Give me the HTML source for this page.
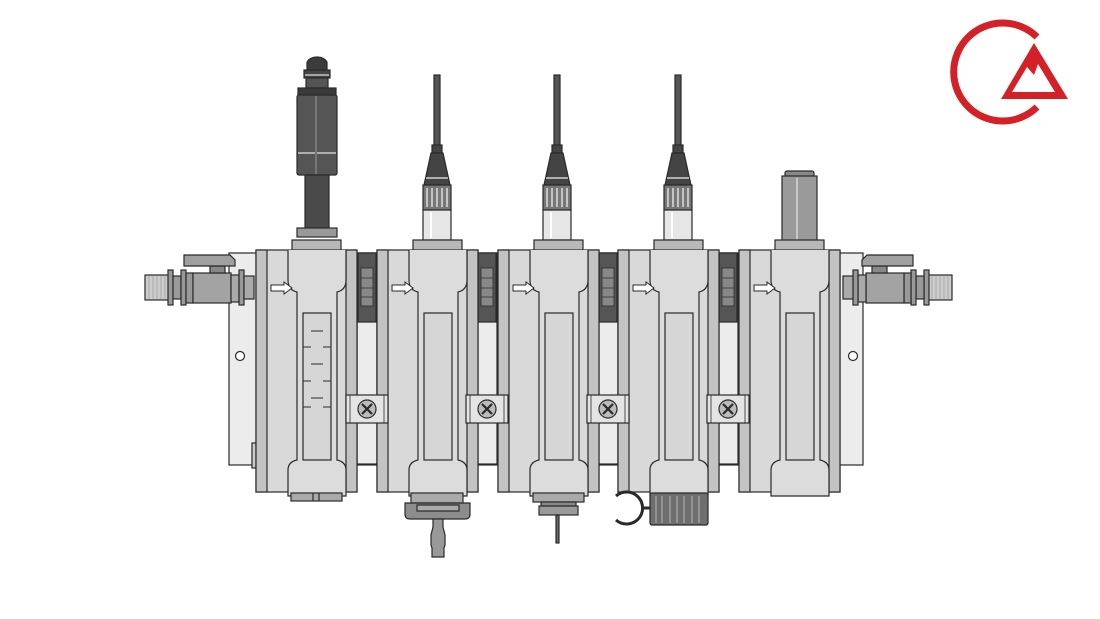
<!DOCTYPE html>
<html><head><meta charset="utf-8"><style>
html,body{margin:0;padding:0;background:#fff;width:1100px;height:619px;overflow:hidden}
svg{display:block}
</style></head><body>
<svg width="1100" height="619" viewBox="0 0 1100 619" xmlns="http://www.w3.org/2000/svg" stroke="#2a2a2a" stroke-width="1.2">
<defs>
  <g id="mod">
    <rect x="0" y="250" width="101" height="242" fill="#d9d9d9"/>
    <rect x="0" y="250" width="11" height="242" fill="#c3c3c3"/>
    <rect x="90" y="250" width="11" height="242" fill="#c3c3c3"/>
    <rect x="36" y="240" width="49" height="10" fill="#b8b8b8"/>
    <path d="M32 250 V280 Q32 290 41 292 V460 Q32 462 32 470 V496 H90 V470 Q90 462 81 460 V292 Q90 290 90 280 V250" fill="#dcdcdc"/>
    <rect x="47" y="313" width="28" height="147" fill="#d6d6d6"/>
    <path d="M15 285 H28 V282 L36 288 L28 294 V291 H15 Z" fill="#fff" stroke-width="1"/>
  </g>
  <g id="conn">
    <rect x="0" y="253" width="20" height="211" fill="#ececec"/>
    <rect x="1" y="253" width="18" height="69" fill="#555"/>
    <rect x="4" y="268" width="12" height="38" fill="#888" stroke-width="0.8"/>
    <line x1="4" y1="278" x2="16" y2="278" stroke="#333" stroke-width="0.8"/>
    <line x1="4" y1="288" x2="16" y2="288" stroke="#333" stroke-width="0.8"/>
    <line x1="4" y1="297" x2="16" y2="297" stroke="#333" stroke-width="0.8"/>
  </g>
  <g id="brk">
    <rect x="-11" y="395" width="42" height="28" fill="#e4e4e4"/>
    <line x1="-7" y1="395" x2="-7" y2="423" stroke-width="0.8"/>
    <line x1="27" y1="395" x2="27" y2="423" stroke-width="0.8"/>
    <circle cx="10" cy="409" r="9" fill="#bbb"/>
    <path d="M5 404 L15 414 M15 404 L5 414" stroke-width="2.2"/>
  </g>
  <g id="cab">
    <rect x="-3" y="75" width="6" height="72" fill="#555"/>
    <rect x="-5" y="145" width="10" height="8" fill="#444"/>
    <path d="M-6 153 H6 L13 185 H-13 Z" fill="#444"/>
    <line x1="-11" y1="178" x2="11" y2="178" stroke="#eee" stroke-width="1.2"/>
    <rect x="-14" y="185" width="28" height="25" fill="#777"/>
    <path d="M-10 188 V207 M-5 188 V207 M0 188 V207 M5 188 V207 M10 188 V207" stroke="#ddd" stroke-width="1.5"/>
    <rect x="-14" y="210" width="28" height="30" fill="#e6e6e6"/>
    <line x1="-6" y1="212" x2="-6" y2="238" stroke="#fff" stroke-width="2"/>
  </g>
  <g id="valve">
    <rect x="0" y="275" width="25" height="25" fill="#ccc"/>
    <path d="M4 276 V299 M8 276 V299 M12 276 V299 M16 276 V299 M20 276 V299" stroke="#aaa" stroke-width="1"/>
    <rect x="23" y="270" width="5" height="35" fill="#999"/>
    <rect x="28" y="276" width="8" height="23" fill="#999"/>
    <rect x="36" y="270" width="5" height="35" fill="#999"/>
    <rect x="41" y="273" width="7" height="30" fill="#999"/>
    <rect x="48" y="273" width="38" height="30" fill="#a3a3a3"/>
    <rect x="65" y="266" width="15" height="7" fill="#888"/>
    <path d="M39 255 H85 L90 260 V266 H39 Z" fill="#a0a0a0"/>
    <rect x="86" y="275" width="8" height="27" fill="#aaa"/>
    <rect x="94" y="270" width="5" height="35" fill="#999"/>
    <rect x="99" y="276" width="10" height="23" fill="#aaa"/>
  </g>
</defs>

<rect x="229" y="253" width="634" height="212" fill="#ececec"/>
<circle cx="240" cy="356" r="4.5" fill="#fff"/>
<circle cx="853" cy="356" r="4.5" fill="#fff"/>
<rect x="252" y="443" width="5" height="25" fill="#ccc"/>

<use href="#valve" transform="translate(145,0)"/>
<use href="#valve" transform="translate(952,0) scale(-1,1)"/>

<use href="#conn" x="357"/>
<use href="#conn" x="477"/>
<use href="#conn" x="598"/>
<use href="#conn" x="718"/>

<path d="M307 70 V62 Q310 57 317 57 Q324 57 327 62 V70 Z" fill="#3c3c3c"/>
<rect x="304" y="70" width="26" height="8" fill="#444"/>
<line x1="305" y1="75" x2="329" y2="75" stroke="#ddd"/>
<rect x="306" y="78" width="22" height="10" fill="#555"/>
<rect x="298" y="88" width="38" height="7" fill="#3a3a3a"/>
<rect x="297" y="95" width="40" height="80" rx="2" fill="#555"/>
<line x1="298" y1="153" x2="336" y2="153" stroke="#ccc" stroke-width="1.5"/>
<line x1="316" y1="96" x2="316" y2="174" stroke="#777" stroke-width="2"/>
<rect x="305" y="175" width="24" height="53" fill="#4a4a4a"/>
<rect x="297" y="228" width="40" height="9" fill="#999"/>
<use href="#cab" transform="translate(437,0)"/>
<use href="#cab" transform="translate(557,0)"/>
<use href="#cab" transform="translate(678,0)"/>
<rect x="785" y="171" width="29" height="6" rx="2" fill="#888"/>
<rect x="782" y="176" width="35" height="66" fill="#9a9a9a"/>
<line x1="797" y1="178" x2="797" y2="240" stroke="#c8c8c8" stroke-width="2"/>

<use href="#mod" x="256"/>
<use href="#mod" x="377"/>
<use href="#mod" x="498"/>
<use href="#mod" x="618"/>
<use href="#mod" x="739"/>

<use href="#brk" x="357"/>
<use href="#brk" x="477"/>
<use href="#brk" x="598"/>
<use href="#brk" x="718"/>

<g stroke-width="1">
<path d="M303 313 H311 M323 313 H331 M303 347 H311 M323 347 H331 M303 381 H311 M323 381 H331 M303 407 H311 M323 407 H331"/>
<path d="M311 331 H323 M311 364 H323 M311 398 H323"/>
</g>

<rect x="291" y="493" width="51" height="8" fill="#aaa"/>
<line x1="313" y1="493" x2="313" y2="501"/><line x1="319" y1="493" x2="319" y2="501"/>
<rect x="411" y="493" width="52" height="10" fill="#aaa"/>
<path d="M405 503 H470 V514 Q470 519 465 519 H410 Q405 519 405 514 Z" fill="#8c8c8c"/>
<rect x="417" y="505" width="42" height="6" fill="#aaa"/>
<path d="M433 519 H443 V527 L445 535 V545 L444 548 V557 H432 V548 L431 545 V535 L433 527 Z" fill="#999"/>
<rect x="533" y="493" width="51" height="9" fill="#aaa"/>
<rect x="541" y="502" width="35" height="4" fill="#888"/>
<rect x="539" y="506" width="39" height="9" fill="#999"/>
<rect x="556" y="515" width="3" height="28" fill="#666"/>
<path d="M616 496 A16 16 0 1 1 616 520" fill="none" stroke="#2a2a2a" stroke-width="3"/>
<line x1="642" y1="508" x2="652" y2="508" stroke-width="3"/>
<rect x="650" y="493" width="58" height="32" rx="2" fill="#6e6e6e"/>
<path d="M656 496 V523 M662 496 V523 M670 496 V523 M677 496 V523 M684 496 V523 M692 496 V523 M699 496 V523" stroke="#aaa" stroke-width="1.2"/>

<path d="M1037 37 A49 49 0 1 0 1037 107" fill="none" stroke="#d42127" stroke-width="7"/>
<polygon points="1034,43 1001,99 1068,99" fill="#d42127" stroke="none"/>
<polygon points="1012,92 1027,67 1034,75 1038,64 1055,92" fill="#fff" stroke="none"/>
</svg>
</body></html>
